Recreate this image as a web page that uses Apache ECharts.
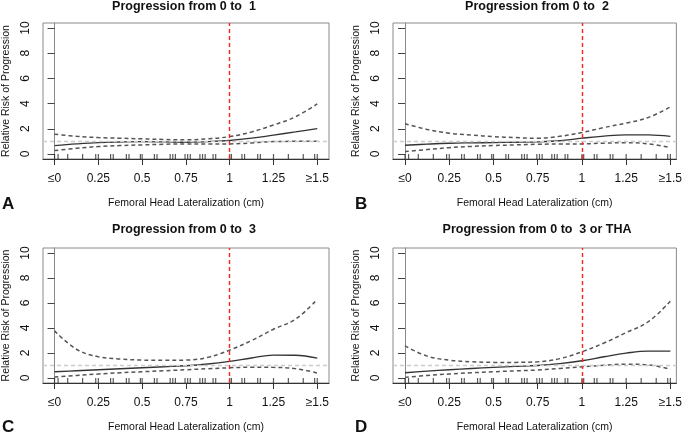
<!DOCTYPE html>
<html>
<head>
<meta charset="utf-8">
<script src="https://cdn.jsdelivr.net/npm/echarts@6/dist/echarts.min.js"></script>
<style>
html,body{margin:0;padding:0;background:#fff;}
#c{width:685px;height:434px;}
</style>
</head>
<body>
<div id="c"></div>
<script>
// ---- data ----
const titles = ['Progression from 0 to  1', 'Progression from 0 to  2', 'Progression from 0 to  3', 'Progression from 0 to  3 or THA'];
const letters = ['A', 'B', 'C', 'D'];
const xTicks = [0, 0.25, 0.5, 0.75, 1, 1.25, 1.5];
const xTickLabels = ['≤0', '0.25', '0.5', '0.75', '1', '1.25', '≥1.5'];
const yTicks = [0, 2, 4, 6, 8, 10];
const xPoints = [0, 0.125, 0.25, 0.375, 0.5, 0.625, 0.75, 0.875, 1.0, 1.125, 1.25, 1.375, 1.5];

const upperA = [1.57, 1.40, 1.30, 1.25, 1.20, 1.15, 1.12, 1.20, 1.38, 1.75, 2.30, 2.95, 3.97];
const estA   = [0.67, 0.80, 0.90, 0.95, 0.98, 0.96, 0.93, 0.98, 1.07, 1.25, 1.50, 1.75, 2.02];
const lowerA = [0.27, 0.45, 0.59, 0.67, 0.72, 0.77, 0.80, 0.80, 0.80, 0.88, 0.98, 1.00, 1.00];

const upperB = [2.40, 1.95, 1.65, 1.50, 1.38, 1.30, 1.25, 1.40, 1.70, 2.10, 2.45, 2.90, 3.73];
const estB   = [0.69, 0.78, 0.85, 0.88, 0.90, 0.93, 0.96, 1.05, 1.25, 1.42, 1.52, 1.52, 1.40];
const lowerB = [0.19, 0.35, 0.50, 0.60, 0.67, 0.72, 0.77, 0.79, 0.80, 0.86, 0.90, 0.80, 0.50];

const upperC = [3.77, 2.30, 1.70, 1.52, 1.43, 1.41, 1.43, 1.65, 2.23, 3.00, 3.90, 4.70, 6.29];
const estC   = [0.50, 0.58, 0.66, 0.74, 0.82, 0.90, 0.98, 1.12, 1.33, 1.60, 1.83, 1.82, 1.59];
const lowerC = [0.08, 0.20, 0.32, 0.42, 0.50, 0.58, 0.66, 0.74, 0.82, 0.86, 0.85, 0.75, 0.40];

const upperD = [2.57, 1.75, 1.43, 1.30, 1.25, 1.25, 1.30, 1.55, 2.10, 2.80, 3.63, 4.50, 6.15];
const estD   = [0.42, 0.55, 0.66, 0.76, 0.85, 0.93, 1.00, 1.15, 1.38, 1.70, 1.99, 2.15, 2.15];
const lowerD = [0.05, 0.20, 0.32, 0.42, 0.50, 0.57, 0.64, 0.76, 0.90, 1.02, 1.11, 1.05, 0.69];

const rugX = [0, 0.02, 0.075, 0.16, 0.235, 0.25, 0.32, 0.335, 0.41, 0.425, 0.49, 0.5, 0.57, 0.585,
  0.66, 0.675, 0.69, 0.745, 0.76, 0.775, 0.83, 0.845, 0.86, 0.905, 0.92, 1.0, 1.01, 1.07, 1.085,
  1.16, 1.175, 1.25, 1.335, 1.42, 1.485, 1.5];

// ---- layout ----
const uppers = [upperA, upperB, upperC, upperD];
const ests = [estA, estB, estC, estD];
const lowers = [lowerA, lowerB, lowerC, lowerD];
const grids = [
  {left: 40, top: 23, width: 289, height: 136},
  {left: 393, top: 23, width: 284, height: 136},
  {left: 40, top: 248, width: 289, height: 135},
  {left: 393, top: 248, width: 284, height: 135}
];
const titleTops = [0, 0, 223, 223];
const letterTops = [196, 196, 419, 419];
const xRanges = [[-0.066, 1.567], [-0.068, 1.534], [-0.066, 1.567], [-0.068, 1.534]];
const FONT = 'Liberation Sans, Arial, Helvetica, sans-serif';

const pair = (xs, ys) => xs.map((x, i) => [x, ys[i]]);

const option = {
  animation: false,
  backgroundColor: '#ffffff',
  title: [],
  grid: [],
  xAxis: [],
  yAxis: [],
  series: []
};

grids.forEach((g, i) => {
  option.grid.push(Object.assign({show: true, borderColor: '#8a8a8a', borderWidth: 1, backgroundColor: 'transparent'}, g));
  option.title.push({
    text: titles[i], left: g.left + 144, top: titleTops[i], textAlign: 'center', padding: 0,
    textStyle: {fontFamily: FONT, fontSize: 12.5, fontWeight: 'bold', color: '#111'}
  });
  option.title.push({
    text: letters[i], left: g.left - 38, top: letterTops[i], padding: 0,
    textStyle: {fontFamily: FONT, fontSize: 17, fontWeight: 'bold', color: '#111'}
  });
  option.xAxis.push({
    type: 'value', gridIndex: i, min: xRanges[i][0], max: xRanges[i][1],
    axisLine: {show: true, onZero: false, lineStyle: {color: '#333', width: 1.2}},
    axisTick: {show: true, customValues: xTicks, length: 6, lineStyle: {color: '#333', width: 1}},
    axisLabel: {
      customValues: xTicks, margin: 14, fontFamily: FONT, fontSize: 12, color: '#111',
      formatter: v => { const k = xTicks.findIndex(t => Math.abs(t - v) < 1e-6); return k >= 0 ? xTickLabels[k] : ''; }
    },
    splitLine: {show: false},
    name: 'Femoral Head Lateralization (cm)', nameLocation: 'middle', nameGap: 39,
    nameTextStyle: {fontFamily: FONT, fontSize: 10.5, color: '#111'}
  });
  option.yAxis.push({
    type: 'value', gridIndex: i, min: -0.4, max: 10.4,
    axisLine: {show: true, lineStyle: {color: '#8a8a8a', width: 1}},
    axisTick: {show: true, customValues: yTicks, length: 7, lineStyle: {color: '#444', width: 1}},
    axisLabel: {customValues: yTicks, rotate: 90, margin: 11, fontFamily: FONT, fontSize: 12, color: '#111'},
    splitLine: {show: false},
    name: 'Relative Risk of Progression', nameLocation: 'middle', nameGap: 31, nameRotate: 90,
    nameTextStyle: {fontFamily: FONT, fontSize: 10.5, color: '#111'}
  });
  option.series.push({
    type: 'line', xAxisIndex: i, yAxisIndex: i, data: pair(xPoints, ests[i]),
    smooth: 0.4, showSymbol: false, symbol: 'none',
    lineStyle: {color: '#333', width: 1.3}, z: 4,
    markLine: {
      silent: true, symbol: 'none', label: {show: false},
      data: [
        {xAxis: 1, lineStyle: {color: '#ff2020', type: [4, 3], width: 1.4}},
        {yAxis: 1, lineStyle: {color: '#cccccc', type: [4, 3], width: 1.3}}
      ]
    }
  });
  [uppers[i], lowers[i]].forEach(arr => {
    option.series.push({
      type: 'line', xAxisIndex: i, yAxisIndex: i, data: pair(xPoints, arr),
      smooth: 0.4, showSymbol: false, symbol: 'none',
      lineStyle: {color: '#555', width: 1.5, type: [4, 3]}, z: 3
    });
  });
  option.series.push({
    type: 'scatter', xAxisIndex: i, yAxisIndex: i,
    data: rugX.map(x => [x, -0.4]),
    symbol: 'rect', symbolSize: [1.2, 5], symbolOffset: [0, -2.5],
    itemStyle: {color: '#222', opacity: 0.75}, z: 2, silent: true
  });
});

const chart = echarts.init(document.getElementById('c'), null, {renderer: 'canvas'});
chart.setOption(option);
</script>
</body>
</html>
